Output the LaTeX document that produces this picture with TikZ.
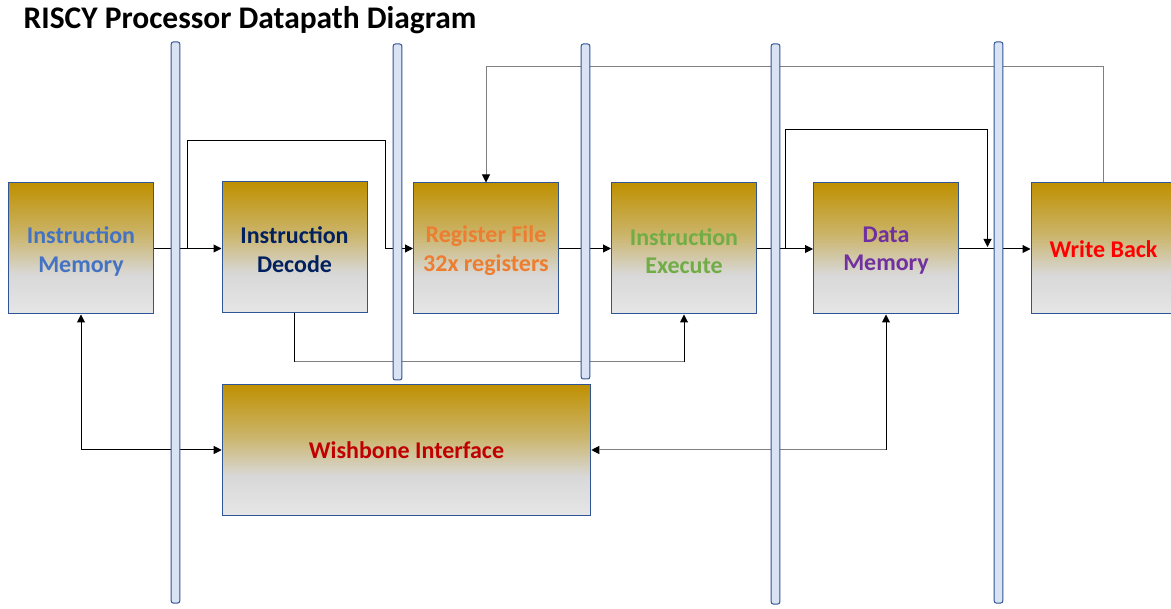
\documentclass[tikz,border=0pt]{standalone}
\usepackage{fontspec}
\setmainfont{Carlito}
\usetikzlibrary{arrows.meta}
\definecolor{gtop}{HTML}{BF9000}
\definecolor{gwarm}{HTML}{CBB56C}
\definecolor{gmid}{HTML}{D8D8D8}
\definecolor{gbot}{HTML}{E6E6E6}
\definecolor{bordblue}{HTML}{2F5597}
\definecolor{barfill}{HTML}{DAE3F3}
\definecolor{linegray}{HTML}{7F7F7F}
\definecolor{cIM}{HTML}{4472C4}
\definecolor{cID}{HTML}{002060}
\definecolor{cRF}{HTML}{ED7D31}
\definecolor{cIE}{HTML}{70AD47}
\definecolor{cDM}{HTML}{7030A0}
\definecolor{cWB}{HTML}{FF0000}
\definecolor{cWI}{HTML}{C00000}
\pgfdeclareverticalshading{boxgrad}{100bp}{color(0bp)=(gbot); color(25bp)=(gbot); color(40bp)=(gmid); color(55bp)=(gwarm); color(75bp)=(gtop); color(100bp)=(gtop)}
\begin{document}
\begin{tikzpicture}[x=0.75pt,y=-0.75pt,
  blk/.style={draw=bordblue, line width=0.75pt, shading=boxgrad,
    minimum width=108.75pt, minimum height=98.25pt, inner sep=0pt},
  lbl/.style={inner sep=0pt, align=center, font=\fontsize{18}{21.5}\selectfont\bfseries},
  pbar/.style={draw=bordblue, fill=barfill, line width=0.75pt,
    rounded corners=1.5pt, minimum width=6.4pt, inner sep=0pt},
  conn/.style={line width=0.75pt, -{Triangle[length=6pt,width=6pt,color=black]}},
  dconn/.style={line width=0.75pt, {Triangle[length=6pt,width=6pt,color=black]}-{Triangle[length=6pt,width=6pt,color=black]}},
  plain/.style={line width=0.75pt}
]
\useasboundingbox (0,0) rectangle (1171,609);
\clip (0,0) rectangle (1171,609);

\node[anchor=base west, font=\fontsize{23.6}{28}\selectfont\bfseries] (title) at (19,29) {RISCY Processor Datapath Diagram};

% blocks
\node[blk] (im) at (81,248.5) {};
\node[blk] (id) at (294.5,247.5) {};
\node[blk] (rf) at (486,248.5) {};
\node[blk] (ie) at (684,248.5) {};
\node[blk] (dm) at (886,248.5) {};
\node[blk] (wb) at (1103.5,248.5) {};
\node[blk, minimum width=276.4pt] (wi) at (406.5,450) {};

% labels
\node[lbl, text=cIM] (imt) at ([yshift=-2pt]im.center) {Instruction\\Memory};
\node[lbl, text=cID] (idt) at ([yshift=-1.5pt]id.center) {Instruction\\Decode};
\node[lbl, text=cRF] (rft) at ([yshift=-1.5pt]rf.center) {Register File\\32x registers};
\node[lbl, text=cIE] (iet) at ([yshift=-2pt]ie.center) {Instruction\\Execute};
\node[lbl, text=cDM] (dmt) at ([yshift=-1.5pt]dm.center) {Data\\Memory};
\node[lbl, text=cWB] (wbt) at ([yshift=-0.5pt]wb.center) {Write Back};
\node[lbl, text=cWI] (wit) at (wi.center) {Wishbone Interface};

% junction / routing coordinates
\coordinate (j1) at (187.5,248);
\coordinate (t1) at (385.5,141);
\coordinate (j2) at (785.5,249);
\coordinate (t2) at (987.5,130);
\coordinate (e2) at (987.5,247);
\coordinate (fb) at (0,67);
\coordinate (lo) at (0,361.5);

% connectors
\draw[conn] (im.east) -- (im.east -| id.west);
\draw[conn] (j1) |- (t1) |- (rf.west);
\draw[conn] (rf.east) -- (ie.west);
\draw[conn] (ie.east |- j2) -- (j2 -| dm.west);
\draw[conn] (j2) |- (t2) -- (e2);
\draw[conn] (dm.east |- j2) -- (j2 -| wb.west);
\draw[conn, draw=linegray] (wb.north) -- (wb.north |- fb) -| (rf.north);
\draw[conn] (id.south) |- (lo -| ie.south) -- (ie.south);
\draw[plain, draw=linegray] (id.south |- lo) -- (lo -| ie.south);
\draw[dconn] (im.south) |- (wi.west);
\draw[dconn] (dm.south) |- (wi.east);
\draw[plain, draw=linegray] (dm.south |- wi.east) -- ([xshift=6pt]wi.east);

% pipeline registers
\node[pbar, minimum height=420.75pt] (b1) at (175.5,322.5) {};
\node[pbar, minimum height=252pt] (b2) at (397.5,212) {};
\node[pbar, minimum height=251.25pt] (b3) at (585.5,211.5) {};
\node[pbar, minimum height=420pt] (b4) at (775.5,324) {};
\node[pbar, minimum height=420.75pt] (b5) at (998.5,322.5) {};
\end{tikzpicture}
\end{document}
